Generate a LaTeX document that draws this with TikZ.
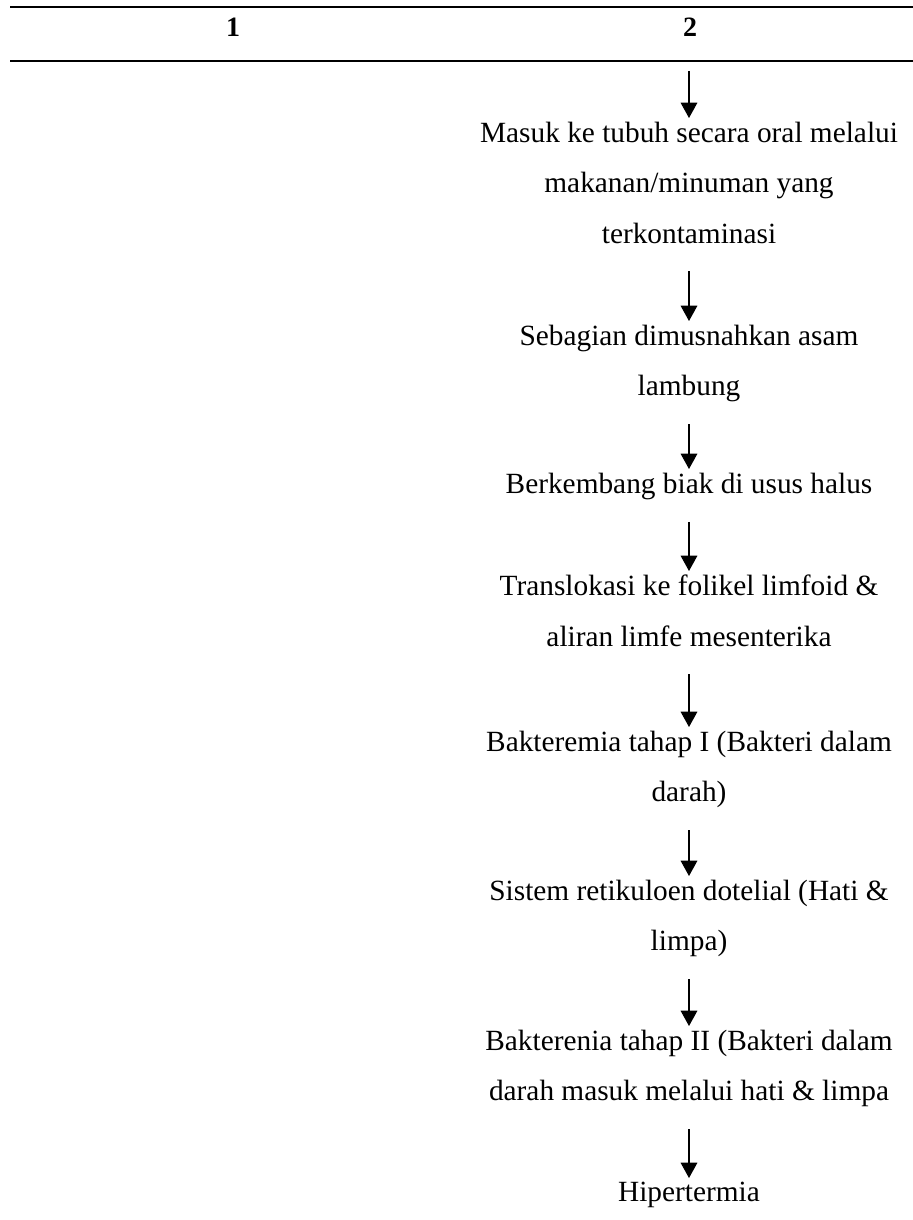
\documentclass[tikz,border=0pt]{standalone}
\usepackage{fontspec}
\setmainfont{Liberation Serif}
\usepackage{tikz}
\usetikzlibrary{arrows.meta}

% penyangga baris agar tinggi/dalam tiap simpul seragam
\newcommand{\tg}{\rule[-6pt]{0pt}{17pt}}

\begin{document}
\begin{tikzpicture}[x=0.75pt, y=-0.75pt,
    langkah/.style={anchor=north, inner sep=0pt, align=center,
        font=\fontsize{22}{37.7}\selectfont},
    kepala/.style={anchor=base, inner sep=0pt, font=\fontsize{21}{24}\selectfont\bfseries},
    panah/.style={line width=0.8pt, -{Triangle[length=11.5pt,width=12.5pt]},
        shorten <=15pt, shorten >=3pt}]
    \useasboundingbox (0,0) rectangle (913,1220);

    % kepala tabel
    \draw[line width=1.5pt] (10,7) -- (913,7);
    \draw[line width=1.5pt] (10,61) -- (913,61);
    \node[kepala] (h1) at (233,37) {1};
    \node[kepala] (h2) at (690,37) {2};

    % alur kolom 2
    \coordinate (awal) at (689,71);
    \node[langkah] (s1) at (689,122) {\tg Masuk ke tubuh secara oral melalui\\ makanan/minuman yang\\ \tg terkontaminasi};
    \node[langkah] (s2) at (689,325) {\tg Sebagian dimusnahkan asam\\ \tg lambung};
    \node[langkah] (s3) at (689,473) {\tg Berkembang biak di usus halus};
    \node[langkah] (s4) at (689,575) {\tg Translokasi ke folikel limfoid \&\\ \tg aliran limfe mesenterika};
    \node[langkah] (s5) at (689,731) {\tg Bakteremia tahap I (Bakteri dalam\\ \tg darah)};
    \node[langkah] (s6) at (689,880) {\tg Sistem retikuloen dotelial (Hati \&\\ \tg limpa)};
    \node[langkah] (s7) at (689,1030) {\tg Bakterenia tahap II (Bakteri dalam\\ \tg darah masuk melalui hati \& limpa};
    \node[langkah] (s8) at (689,1182) {\tg Hipertermia};

    \draw[panah, shorten <=0pt] (awal) -- (s1);
    \foreach \a/\b in {s1/s2, s2/s3, s3/s4, s4/s5, s5/s6, s6/s7, s7/s8}
        \draw[panah] (\a) -- (\b);
\end{tikzpicture}
\end{document}
